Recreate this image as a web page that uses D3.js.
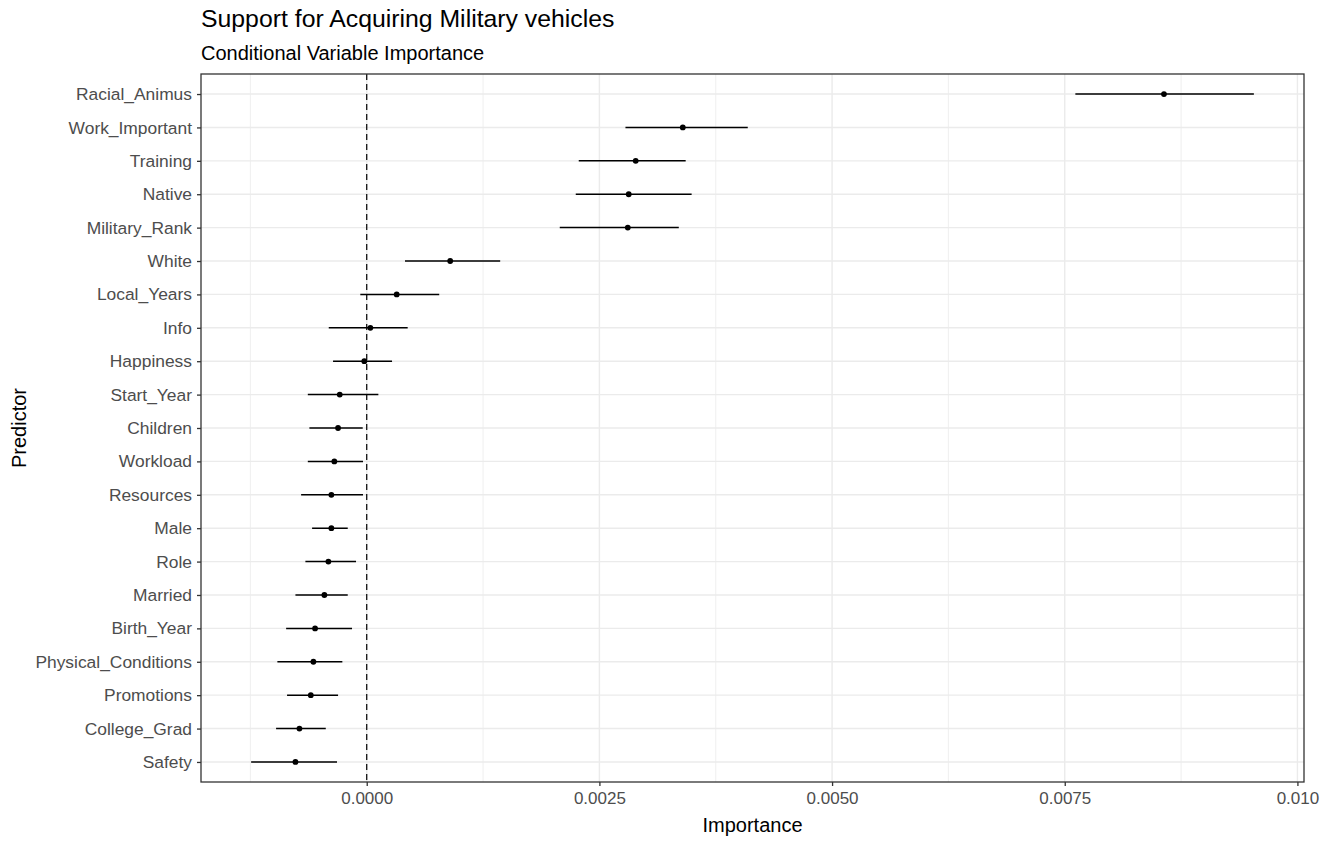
<!DOCTYPE html>
<html>
<head>
<meta charset="utf-8">
<script src="https://cdn.jsdelivr.net/npm/d3@7"></script>
<style>
  html, body { margin: 0; padding: 0; background: #fff; }
  svg { display: block; font-family: "Liberation Sans", Arial, sans-serif; }
</style>
</head>
<body>
<svg id="chart" width="1337" height="841"></svg>
<script>
// Predictors, top to bottom
const predictors = [
  "Racial_Animus", "Work_Important", "Training", "Native", "Military_Rank",
  "White", "Local_Years", "Info", "Happiness", "Start_Year", "Children",
  "Workload", "Resources", "Male", "Role", "Married", "Birth_Year",
  "Physical_Conditions", "Promotions", "College_Grad", "Safety"
];
// Conditional importance estimate
const importance = [
  0.008566, 0.003396, 0.002890, 0.002815, 0.002805,
  0.000897, 0.000322, 0.000039, -0.000026, -0.000290, -0.000308,
  -0.000348, -0.000380, -0.000380, -0.000412, -0.000455, -0.000555,
  -0.000573, -0.000601, -0.000723, -0.000766
];
// Interval lower bounds
const lower = [
  0.007614, 0.002780, 0.002278, 0.002246, 0.002074,
  0.000411, -0.000069, -0.000408, -0.000362, -0.000633, -0.000616,
  -0.000633, -0.000705, -0.000587, -0.000659, -0.000766, -0.000866,
  -0.000960, -0.000856, -0.000974, -0.001242
];
// Interval upper bounds
const upper = [
  0.009532, 0.004094, 0.003427, 0.003491, 0.003353,
  0.001434, 0.000779, 0.000440, 0.000272, 0.000125, -0.000043,
  -0.000040, -0.000040, -0.000204, -0.000115, -0.000204, -0.000158,
  -0.000262, -0.000308, -0.000440, -0.000319
];
const xTicks = [0, 0.0025, 0.005, 0.0075, 0.01];
const xTickLabels = ["0.0000", "0.0025", "0.0050", "0.0075", "0.010"];
const xMinor = [-0.00125, 0.00125, 0.00375, 0.00625, 0.00875];

const rows = predictors.map((p, i) => ({ name: p, est: importance[i], lo: lower[i], hi: upper[i] }));

const panel = { left: 201, top: 74, right: 1304, bottom: 782 };

// continuous x with 5% expansion of the data range
const dMin = d3.min(lower), dMax = d3.max(upper);
const pad = (dMax - dMin) * 0.05;
const x = d3.scaleLinear().domain([dMin - pad, dMax + pad]).range([panel.left, panel.right]);

// discrete y with 0.6 unit expansion on each side
const n = predictors.length;
const yUnit = d3.scaleLinear().domain([-0.6, n - 1 + 0.6]).range([panel.top, panel.bottom]);
const y = name => yUnit(predictors.indexOf(name));

const svg = d3.select("#chart");

// panel background grid
const grid = svg.append("g");
grid.selectAll(".minor").data(xMinor).join("line")
  .attr("x1", d => x(d)).attr("x2", d => x(d))
  .attr("y1", panel.top).attr("y2", panel.bottom)
  .attr("stroke", "#ebebeb").attr("stroke-width", 0.8);
grid.selectAll(".majx").data(xTicks).join("line")
  .attr("x1", d => x(d)).attr("x2", d => x(d))
  .attr("y1", panel.top).attr("y2", panel.bottom)
  .attr("stroke", "#ebebeb").attr("stroke-width", 1.4);
grid.selectAll(".majy").data(predictors).join("line")
  .attr("x1", panel.left).attr("x2", panel.right)
  .attr("y1", d => y(d)).attr("y2", d => y(d))
  .attr("stroke", "#ebebeb").attr("stroke-width", 1.4);

// reference line at zero
svg.append("line")
  .attr("x1", x(0)).attr("x2", x(0))
  .attr("y1", panel.top).attr("y2", panel.bottom)
  .attr("stroke", "#000").attr("stroke-width", 1.2)
  .attr("stroke-dasharray", "6,4");

// intervals and estimates
svg.append("g").selectAll("line").data(rows).join("line")
  .attr("x1", d => x(d.lo)).attr("x2", d => x(d.hi))
  .attr("y1", d => y(d.name)).attr("y2", d => y(d.name))
  .attr("stroke", "#000").attr("stroke-width", 1.5);
svg.append("g").selectAll("circle").data(rows).join("circle")
  .attr("cx", d => x(d.est)).attr("cy", d => y(d.name)).attr("r", 2.9)
  .attr("fill", "#000");

// panel border
svg.append("rect")
  .attr("x", panel.left).attr("y", panel.top)
  .attr("width", panel.right - panel.left).attr("height", panel.bottom - panel.top)
  .attr("fill", "none").attr("stroke", "#333").attr("stroke-width", 1.3);

// axes
const xAxis = d3.axisBottom(x).tickValues(xTicks)
  .tickFormat((d, i) => xTickLabels[i]).tickSize(4).tickPadding(6);
const gx = svg.append("g").attr("transform", `translate(0,${panel.bottom})`).call(xAxis);
gx.select(".domain").remove();
gx.selectAll(".tick line").attr("stroke", "#333").attr("stroke-width", 1.3);
gx.selectAll(".tick text").attr("fill", "#4d4d4d").style("font-size", "17px");

const yAxis = d3.axisLeft(d3.scalePoint().domain(predictors).range([yUnit(0), yUnit(n - 1)]))
  .tickSize(4).tickPadding(5);
const gy = svg.append("g").attr("transform", `translate(${panel.left},0)`).call(yAxis);
gy.select(".domain").remove();
gy.selectAll(".tick line").attr("stroke", "#333").attr("stroke-width", 1.3);
gy.selectAll(".tick text").attr("fill", "#4d4d4d").style("font-size", "17.4px");

// titles
svg.append("text").attr("x", panel.left).attr("y", 27)
  .style("font-size", "24.8px").attr("fill", "#000")
  .text("Support for Acquiring Military vehicles");
svg.append("text").attr("x", panel.left).attr("y", 60)
  .style("font-size", "20px").attr("fill", "#000")
  .text("Conditional Variable Importance");
svg.append("text").attr("x", (panel.left + panel.right) / 2).attr("y", 832)
  .attr("text-anchor", "middle").style("font-size", "20px").attr("fill", "#000")
  .text("Importance");
svg.append("text")
  .attr("transform", `translate(26,${(panel.top + panel.bottom) / 2}) rotate(-90)`)
  .attr("text-anchor", "middle").style("font-size", "20px").attr("fill", "#000")
  .text("Predictor");
</script>
</body>
</html>
